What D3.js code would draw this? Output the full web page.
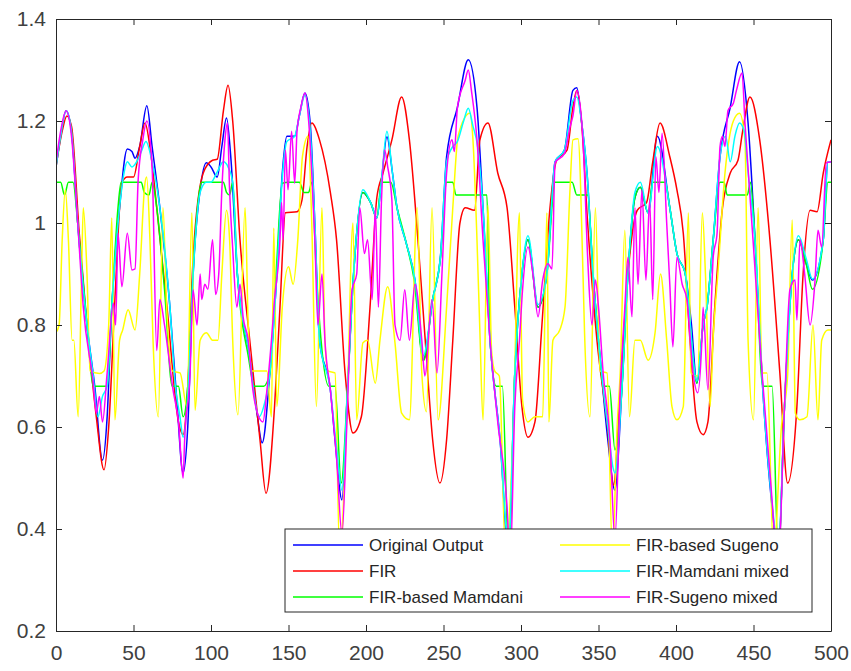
<!DOCTYPE html>
<html>
<head>
<meta charset="utf-8">
<script src="https://cdn.jsdelivr.net/npm/d3@7"></script>
<style>
  body { margin: 0; background: #fff; }
  svg text { font-family: "Liberation Sans", Arial, Helvetica, sans-serif; }
</style>
</head>
<body>
<div id="chart"></div>
<script>
// series values as [sample, value]
const origOut = [[0,1.11],[3,1.17],[6.5,1.22],[10,1.18],[14,1.0],[20,0.8],[25,0.68],[30,0.535],[33,0.62],[36,0.835],[41,1.03],[46,1.145],[49,1.14],[51,1.127],[54,1.15],[58.6,1.23],[62,1.15],[67,1.03],[73.5,0.835],[78,0.65],[82,0.51],[85,0.6],[88.5,0.9],[93,1.065],[97,1.118],[100,1.11],[104,1.09],[107,1.15],[110,1.206],[113,1.12],[117,0.9],[125,0.737],[130,0.62],[133,0.569],[138,0.706],[142.5,0.9],[146,1.098],[149,1.17],[154,1.17],[157,1.21],[160.6,1.255],[164,1.196],[167,1.0],[170,0.77],[177,0.673],[180,0.575],[184.5,0.457],[188,0.67],[192,0.9],[198,1.06],[203,1.04],[207,1.01],[210,1.084],[213.5,1.169],[217,1.1],[220,1.03],[226,0.96],[231.6,0.888],[237,0.731],[243,0.85],[248,0.933],[252,1.13],[259,1.227],[266,1.32],[271.6,1.227],[275.5,1.03],[280,0.77],[286.5,0.575],[292,0.35],[296,0.706],[300.6,0.9],[304.5,0.967],[311,0.835],[316.7,0.9],[322,1.12],[328,1.143],[333.5,1.26],[336,1.265],[339,1.2],[342.6,1.098],[346.5,0.9],[351,0.737],[356,0.575],[360.6,0.476],[365,0.67],[369,0.9],[373.5,1.05],[377,1.07],[382,1.02],[388,1.17],[396,1.03],[400.6,0.94],[406,0.9],[410,0.8],[413.5,0.686],[417.5,0.8],[420,0.835],[424,0.967],[428.4,1.13],[435,1.227],[441,1.316],[446.5,1.196],[451,0.967],[456,0.673],[462,0.443],[466,0.35],[470,0.64],[475,0.9],[479,0.967],[484,0.92],[488,0.888],[495,0.967],[498,1.12],[500,1.12]];

const fir = [[0,1.11],[4,1.18],[7,1.21],[10,1.19],[15,0.98],[20,0.8],[26,0.62],[31,0.516],[34,0.6],[38,0.85],[42.6,1.08],[46,1.09],[50,1.09],[54,1.15],[57.4,1.196],[61,1.14],[65,1.03],[71.6,0.835],[79,0.61],[82,0.585],[85,0.68],[88.5,0.933],[95,1.098],[101,1.123],[104,1.125],[108,1.22],[111,1.27],[114,1.2],[118.7,0.967],[125,0.77],[131.6,0.575],[135.5,0.47],[141,0.64],[144.5,0.835],[148,1.02],[155.5,1.022],[158.7,1.045],[162,1.15],[165,1.196],[170,1.163],[177,1.06],[181,0.967],[186.5,0.706],[191.6,0.588],[197,0.62],[202.6,0.835],[207,1.05],[211,1.098],[216.7,1.163],[223,1.247],[228,1.163],[233.5,0.967],[239,0.737],[243,0.575],[247.7,0.49],[252,0.575],[256,0.77],[260.6,1.0],[264,1.03],[270,1.025],[273.5,1.163],[278.7,1.196],[285,1.098],[291,1.03],[296,0.835],[300.6,0.64],[304.5,0.58],[309,0.61],[313.5,0.8],[318.7,1.03],[323,1.123],[329.7,1.143],[333.5,1.227],[336,1.26],[339,1.2],[343,1.0],[349,0.77],[355.5,0.61],[359.7,0.486],[364,0.673],[369,0.9],[375,1.025],[381,1.04],[385,1.12],[389.7,1.196],[396,1.13],[400.6,1.065],[404.7,0.98],[409,0.77],[413.5,0.61],[417.5,0.585],[420.6,0.61],[425,0.835],[430,1.03],[435,1.098],[440,1.123],[443,1.18],[447.7,1.247],[454,1.163],[460.6,0.967],[467,0.706],[472,0.49],[478,0.64],[482,0.9],[486.5,1.025],[491,1.022],[495,1.098],[500,1.163]];

const firMamdani = [[0,1.08],[3,1.08],[5.5,1.055],[8,1.08],[11,1.08],[14,1.0],[20,0.8],[24,0.68],[33,0.68],[36,0.835],[40,1.03],[42,1.08],[55,1.08],[57,1.06],[60,1.055],[62,1.08],[65,1.03],[70,0.87],[75,0.68],[79,0.68],[82,0.62],[85,0.68],[88,0.88],[92,1.05],[94,1.08],[108,1.08],[110,1.06],[112,1.055],[114,1.08],[117,0.9],[124,0.74],[128,0.68],[134,0.68],[138,0.706],[142,0.9],[146,1.078],[150,1.08],[157,1.08],[160,1.06],[163,1.06],[165,1.08],[168,0.9],[171,0.77],[176,0.68],[180,0.68],[184,0.49],[188,0.67],[192,0.9],[198,1.06],[203,1.04],[207,1.01],[210,1.08],[216,1.08],[220,1.03],[226,0.96],[231,0.89],[237,0.73],[243,0.85],[248,0.93],[252,1.08],[256,1.08],[258,1.055],[278,1.055],[280,0.77],[284,0.68],[288,0.68],[292,0.35],[296,0.706],[300.6,0.9],[304.5,0.967],[311,0.835],[316.7,0.9],[322,1.08],[333,1.08],[336,1.055],[343,1.055],[346.5,0.9],[351,0.737],[353,0.68],[357,0.68],[360.6,0.555],[365,0.67],[369,0.9],[373.5,1.05],[377,1.07],[382,1.02],[385,1.08],[393,1.08],[396,1.03],[400.6,0.94],[406,0.9],[413.5,0.686],[417.5,0.8],[420,0.835],[424,0.967],[428.4,1.08],[431,1.08],[433,1.055],[446,1.055],[448,1.08],[451,0.967],[456,0.68],[462,0.68],[466,0.35],[470,0.64],[475,0.9],[479,0.967],[484,0.92],[488,0.87],[495,0.967],[498,1.08],[500,1.08]];

const firSugeno = [[0,0.785],[2,0.8],[4,0.967],[6,1.065],[8,0.967],[10.4,0.77],[11.5,0.77],[14.3,0.62],[16.5,0.9],[17.6,1.03],[20,0.9],[22,0.71],[28,0.705],[31,0.71],[34,0.8],[36,1.01],[38,0.614],[41,0.77],[43,0.79],[46.5,0.83],[51,0.79],[54,0.9],[57.4,1.078],[58.5,1.09],[60.6,0.967],[62.6,0.77],[66,0.62],[69,1.03],[71.4,0.835],[75,0.71],[80,0.706],[84.5,0.64],[87.7,1.02],[89.7,0.633],[93,0.77],[97,0.785],[101,0.77],[104.5,0.77],[107,0.9],[110,1.025],[112,0.967],[114,0.77],[117.4,0.624],[122,1.03],[124,0.8],[126.4,0.71],[136,0.71],[139,0.62],[140.5,0.99],[142.5,0.64],[146,0.835],[150,0.914],[153,0.88],[156,0.967],[159,1.13],[162.6,1.17],[165,1.0],[168,0.64],[171.6,1.03],[173.5,0.77],[175.5,0.71],[180,0.706],[183,0.35],[187.7,0.627],[191.6,1.0],[194,0.614],[198,0.765],[201,0.77],[206,0.686],[209,0.77],[214,0.875],[218.7,0.765],[223,0.627],[228,0.614],[233,1.03],[236,0.706],[239,0.63],[242.6,1.03],[246.5,0.614],[252,0.835],[256,1.03],[259.4,1.17],[267,1.215],[269,1.163],[271.6,0.967],[273.5,0.785],[275.5,0.614],[278.7,1.035],[281,0.75],[283,0.71],[286,0.7],[290,0.35],[295,0.6],[299,1.02],[301,0.653],[304.5,0.61],[309,0.62],[314,0.62],[316.7,1.02],[318,0.61],[320.6,0.77],[325,0.79],[328.4,0.835],[331.6,1.065],[333.5,1.163],[336.8,1.165],[340,0.9],[341,0.785],[344.5,0.62],[348,1.03],[351,0.71],[355.5,0.706],[359,0.35],[362,0.6],[364,0.706],[367,0.986],[370,0.62],[373.5,0.77],[377,0.77],[382,0.731],[386.5,0.785],[390,0.9],[394,0.77],[397.4,0.64],[400.6,0.614],[404.7,0.64],[408,1.02],[409.7,0.706],[414,0.7],[417,1.02],[419,0.9],[422,0.64],[424,0.776],[427,0.9],[431.6,1.098],[437,1.2],[441,1.215],[444.5,1.163],[446.5,0.77],[450,0.614],[453,1.03],[455.5,0.706],[458.7,0.706],[463,0.35],[468,0.6],[472,0.7],[475,1.006],[477,0.627],[480,0.614],[484.5,0.62],[488.4,0.8],[491.6,0.614],[494,0.77],[498,0.79],[500,0.79]];

const mamdaniMixed = [[0,1.11],[3,1.17],[6.5,1.22],[10,1.18],[14,1.0],[20,0.8],[24,0.7],[27,0.62],[30,0.66],[33,0.68],[36,0.835],[41,1.03],[44,1.1],[46,1.12],[49,1.11],[52,1.12],[55,1.14],[58,1.16],[62,1.12],[67,1.03],[73.5,0.835],[77,0.68],[80,0.62],[82,0.58],[85,0.66],[88.5,0.9],[93,1.06],[97,1.08],[100,1.08],[104,1.1],[108,1.12],[111,1.11],[114,1.08],[117,0.9],[125,0.737],[128,0.66],[131,0.62],[134,0.64],[138,0.706],[142.5,0.9],[146,1.09],[149,1.16],[154,1.17],[157,1.21],[160.6,1.25],[164,1.18],[167,1.0],[170,0.77],[177,0.673],[181,0.56],[184.5,0.476],[188,0.67],[192,0.9],[198,1.065],[203,1.04],[207,1.01],[210,1.084],[213.5,1.18],[217,1.1],[220,1.03],[226,0.96],[231.6,0.888],[237,0.74],[243,0.85],[248,0.933],[252,1.12],[256,1.15],[259,1.16],[263,1.2],[266,1.225],[269,1.19],[272,1.15],[275.5,1.03],[280,0.77],[286.5,0.575],[292,0.37],[296,0.706],[300.6,0.9],[304.5,0.975],[311,0.84],[316.7,0.9],[322,1.12],[328,1.143],[333.5,1.24],[336,1.247],[339,1.2],[342.6,1.098],[346.5,0.9],[351,0.737],[356,0.6],[360.6,0.51],[365,0.67],[369,0.9],[373.5,1.06],[377,1.08],[382,1.02],[388,1.15],[396,1.03],[400.6,0.94],[406,0.9],[413.5,0.69],[417.5,0.8],[420,0.835],[424,0.967],[428.4,1.13],[432,1.17],[435,1.12],[438,1.17],[441,1.196],[444,1.18],[446.5,1.1],[451,0.967],[456,0.673],[462,0.45],[466,0.36],[470,0.64],[475,0.9],[479,0.975],[484,0.93],[488,0.89],[495,0.967],[498,1.12],[500,1.12]];

const sugenoMixed = [[0,1.118],[3,1.18],[6.5,1.22],[10,1.17],[14,1.0],[17.6,0.835],[24,0.686],[26,0.627],[28,0.66],[30,0.61],[33,0.706],[37,0.843],[38.5,0.8],[40,0.98],[42.5,0.875],[46,0.98],[49,0.908],[51,0.91],[53,1.084],[56,1.163],[58.6,1.2],[62,1.11],[65,0.75],[67,0.85],[70,0.8],[75.5,0.673],[79,0.61],[82,0.5],[83,0.575],[86.5,0.706],[88.4,0.869],[91,0.8],[93,0.9],[94,0.85],[96,0.88],[98,0.87],[101,0.967],[103,0.86],[105,0.9],[107,1.065],[109,1.163],[110.6,1.196],[112,1.065],[114,0.95],[116.7,0.835],[118.7,0.88],[120.7,0.816],[124,0.77],[127,0.673],[130,0.627],[133.5,0.61],[136,0.67],[139,0.77],[141,0.85],[144.5,0.967],[145.5,1.04],[146.5,0.967],[148,1.143],[149.7,1.065],[152,1.18],[154,1.078],[155.5,1.18],[158,1.227],[160.6,1.255],[163,1.2],[165,1.098],[167,0.967],[169,0.8],[171.6,0.9],[173.5,0.77],[177,0.673],[181,0.54],[184.5,0.39],[187.7,0.61],[191,0.869],[194,0.9],[196,1.03],[199,0.94],[201,0.967],[204,0.85],[206,1.03],[208,0.835],[210,1.045],[212,1.143],[214,1.11],[216.7,1.045],[218.7,0.8],[222,0.77],[225,0.869],[228,0.77],[231.6,0.88],[236,0.77],[238,0.7],[242.6,0.85],[245.8,0.706],[249,0.9],[252,1.098],[255.5,1.163],[257,1.14],[259,1.227],[264,1.28],[266,1.3],[268,1.26],[271.6,1.163],[275.5,0.967],[280,0.77],[285,0.61],[291,0.443],[293,0.33],[296,0.64],[299,0.77],[301,0.869],[304.5,0.953],[307.7,0.9],[311,0.816],[314,0.888],[317.4,0.92],[320,0.91],[322,1.118],[328,1.136],[331.6,1.188],[333.5,1.21],[336,1.26],[340,1.163],[343,0.933],[345.8,0.8],[348,0.888],[350,0.835],[353,0.706],[357.4,0.575],[360.6,0.38],[364,0.673],[367,0.835],[369,0.933],[371.6,0.816],[373.5,1.03],[375.5,0.88],[378,1.065],[380.6,0.888],[383,1.045],[385,0.85],[387,1.13],[389,1.06],[391,1.176],[394,1.0],[396,0.88],[398,0.757],[400.6,0.933],[404,0.88],[407,0.85],[411,0.706],[414,0.667],[416.7,0.77],[417.5,0.835],[420.6,0.673],[424,0.933],[426.5,0.98],[428.4,1.15],[430,1.17],[431.6,1.15],[433.5,1.22],[437,1.235],[439,1.26],[442.6,1.294],[444.5,1.196],[449.7,0.967],[455.5,0.706],[460.6,0.51],[466,0.34],[470,0.64],[473.5,0.869],[476.8,0.888],[478,0.81],[480,0.967],[483,0.9],[486.5,0.8],[489.7,0.888],[491.6,0.986],[494,0.953],[497,1.118],[500,1.12]];

const seriesNames = ["Original Output", "FIR", "FIR-based Mamdani", "FIR-based Sugeno", "FIR-Mamdani mixed", "FIR-Sugeno mixed"];
const seriesColors = ["#0000ff", "#ff0000", "#00ff00", "#ffff00", "#00ffff", "#ff00ff"];
const seriesData = [origOut, fir, firMamdani, firSugeno, mamdaniMixed, sugenoMixed];

const xTicks = [0, 50, 100, 150, 200, 250, 300, 350, 400, 450, 500];
const yTicks = [0.2, 0.4, 0.6, 0.8, 1.0, 1.2, 1.4];

const width = 851, height = 671;
const margin = {left: 56, right: 20, top: 19, bottom: 40};

const svg = d3.select("#chart").append("svg")
    .attr("width", width)
    .attr("height", height);

const x = d3.scaleLinear().domain([0, 500]).range([margin.left, width - margin.right]);
const y = d3.scaleLinear().domain([0.2, 1.4]).range([height - margin.bottom, margin.top]);

svg.append("clipPath").attr("id", "plot-clip")
    .append("rect")
    .attr("x", x(0)).attr("y", y(1.4))
    .attr("width", x(500) - x(0)).attr("height", y(0.2) - y(1.4));

const line = d3.line()
    .x(d => x(d[0]))
    .y(d => y(d[1]))
    .curve(d3.curveMonotoneX);

const lines = svg.append("g").attr("clip-path", "url(#plot-clip)");
seriesData.forEach((s, i) => {
    lines.append("path")
        .datum(s)
        .attr("fill", "none")
        .attr("stroke", seriesColors[i])
        .attr("stroke-width", 1.5)
        .attr("stroke-linejoin", "round")
        .attr("d", line);
});

// axes, matlab style box with ticks pointing inwards
const fmt = d => d3.format("")(+d.toFixed(1));
function styleAxis(g) {
    g.select(".domain").attr("stroke", "#262626");
    g.selectAll(".tick line").attr("stroke", "#262626");
    g.selectAll("text").attr("fill", "#404040").style("font-size", "21px");
}

svg.append("g")
    .attr("transform", "translate(0," + y(0.2) + ")")
    .call(d3.axisBottom(x).tickValues(xTicks).tickSize(-6).tickPadding(14).tickSizeOuter(0))
    .call(styleAxis);

svg.append("g")
    .attr("transform", "translate(0," + y(1.4) + ")")
    .call(d3.axisTop(x).tickValues(xTicks).tickSize(-6).tickFormat("").tickSizeOuter(0))
    .call(styleAxis);

svg.append("g")
    .attr("transform", "translate(" + x(0) + ",0)")
    .call(d3.axisLeft(y).tickValues(yTicks).tickSize(-6).tickPadding(10).tickFormat(fmt).tickSizeOuter(0))
    .call(styleAxis);

svg.append("g")
    .attr("transform", "translate(" + x(500) + ",0)")
    .call(d3.axisRight(y).tickValues(yTicks).tickSize(-6).tickFormat("").tickSizeOuter(0))
    .call(styleAxis);

// legend
const legend = svg.append("g").attr("transform", "translate(285,529)");
legend.append("rect")
    .attr("width", 527).attr("height", 83)
    .attr("fill", "#fff").attr("stroke", "#262626").attr("stroke-width", 1);

seriesNames.forEach((name, i) => {
    const col = Math.floor(i / 3), row = i % 3;
    const lx = col === 0 ? 8 : 275;
    const ly = 16 + row * 26;
    const item = legend.append("g").attr("transform", "translate(" + lx + "," + ly + ")");
    item.append("line")
        .attr("x1", 0).attr("x2", 70)
        .attr("stroke", seriesColors[i]).attr("stroke-width", 1.5);
    item.append("text")
        .attr("x", 76).attr("dy", "0.35em")
        .attr("fill", "#262626")
        .style("font-size", "17px")
        .text(name);
});
</script>
</body>
</html>
